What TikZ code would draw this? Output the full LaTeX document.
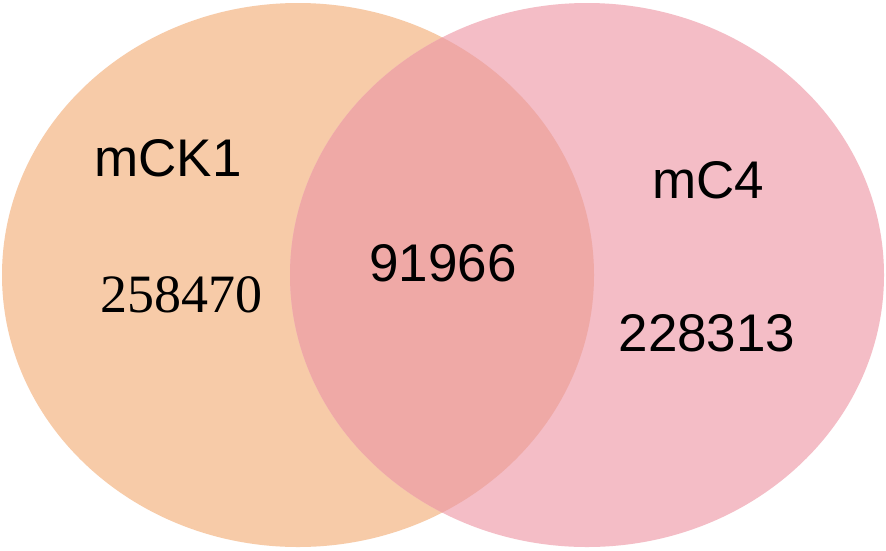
\documentclass[tikz,border=0pt]{standalone}
\usepackage{fontspec}
\setmainfont{Liberation Sans}
\newfontfamily\timesfont{Liberation Serif}
\definecolor{leftc}{HTML}{F7CBA8}
\definecolor{rightc}{HTML}{F4BDC6}
\definecolor{overc}{HTML}{EFA9A6}
\begin{document}
\begin{tikzpicture}[x=1pt,y=-1pt,
  lbl/.style={inner sep=0pt,font=\fontsize{53}{60}\selectfont,anchor=center}]
\useasboundingbox (0,0) rectangle (886,550);
\fill[white] (0,0) rectangle (886,550);
\fill[leftc] (298,275) ellipse [x radius=296, y radius=272];
\fill[rightc] (587,275) ellipse [x radius=297, y radius=272];
\begin{scope}
  \clip (298,275) ellipse [x radius=296, y radius=272];
  \fill[overc] (587,275) ellipse [x radius=297, y radius=272];
\end{scope}
\node[lbl] (a) at (168,158) {mCK1};
\node[lbl,font=\timesfont\fontsize{54}{60}\selectfont] (an) at (181,295) {258470};
\node[lbl] (ab) at (443,263) {91966};
\node[lbl] (b) at (708,180) {mC4};
\node[lbl] (bn) at (707,333) {228313};
\end{tikzpicture}
\end{document}
